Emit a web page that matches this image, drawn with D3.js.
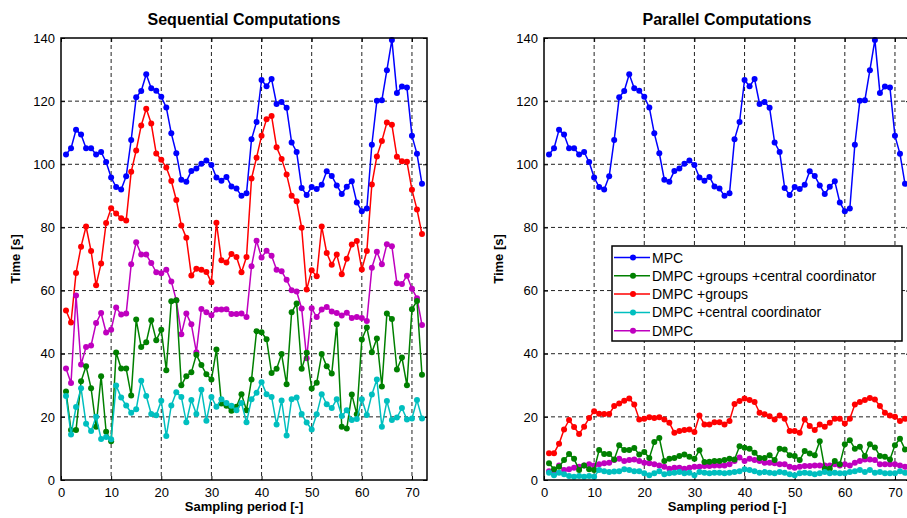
<!DOCTYPE html>
<html>
<head>
<meta charset="utf-8">
<script src="https://cdn.jsdelivr.net/npm/d3@7"></script>
<style>
  html, body { margin: 0; padding: 0; background: #fff; }
  svg { display: block; font-family: Arial, "Liberation Sans", Helvetica, sans-serif; }
</style>
</head>
<body>
<svg id="chart" width="907" height="518"></svg>
<script>
// ---------------- data ----------------
const periods = d3.range(1, 73);
const xTicks = [0, 10, 20, 30, 40, 50, 60, 70];
const yTicks = [0, 20, 40, 60, 80, 100, 120, 140];
const panelTitles = ["Sequential Computations", "Parallel Computations"];
const seriesNames = ["MPC", "DMPC +groups +central coordinator", "DMPC +groups", "DMPC +central coordinator", "DMPC"];
const seriesColors = ["#0000ff", "#008000", "#ff0000", "#00bfbf", "#bf00bf"];

const mpc = [103.1,105.1,110.9,109.4,105.1,105.1,103.1,103.9,100.7,95.8,92.8,92.0,96.2,107.7,121.2,123.2,128.5,124.1,123.3,121.4,118.0,109.8,103.5,95.1,94.5,97.9,98.7,100.2,101.2,99.8,95.8,94.8,96.0,93.0,92.3,90.0,90.8,107.9,113.4,126.7,124.7,127.0,119.1,119.7,117.9,106.9,103.9,92.5,90.3,92.8,92.2,93.5,97.8,96.3,93.3,90.6,92.9,94.6,87.9,85.1,86.0,106.2,120.1,120.3,129.8,139.4,122.6,124.6,124.3,109.0,103.3,93.8];

// Sequential computations
const seqGroupsCoord = [28.0,15.8,15.8,31.3,36.0,29.1,16.9,32.9,15.3,12.3,40.4,35.3,35.3,26.8,50.8,42.1,43.6,50.6,44.3,47.6,34.8,56.6,56.9,30.0,32.9,34.1,39.7,36.4,33.5,31.8,41.3,24.2,23.5,21.9,23.2,27.2,22.1,31.8,47.1,46.8,44.6,33.9,35.2,39.9,30.3,53.1,55.9,35.2,40.3,29.0,30.8,39.9,36.0,33.7,49.3,16.9,16.3,27.1,20.8,44.5,48.3,40.5,44.8,29.6,52.7,51.0,35.0,38.8,30.0,54.1,56.7,33.3];
const seqGroups = [53.7,49.9,65.6,73.9,80.3,72.5,61.7,68.6,81.4,86.1,84.4,82.9,82.2,97.6,104.4,112.3,117.6,112.9,103.4,101.4,99.0,94.7,88.7,80.6,76.7,64.8,66.9,66.6,65.9,62.6,81.5,69.6,68.9,71.6,70.6,65.8,70.6,95.5,102.1,109.0,114.3,115.3,105.4,101.7,96.8,90.0,88.3,79.9,60.3,66.4,64.5,80.3,71.9,68.2,71.4,65.2,70.1,74.6,75.7,66.7,72.5,93.6,102.5,107.4,113.2,112.5,102.4,101.0,100.8,91.9,85.7,77.9];
const seqCoord = [26.6,14.4,23.1,29.1,17.8,15.5,20.0,13.0,13.6,12.9,29.9,26.1,23.6,21.3,22.4,31.4,26.6,20.9,20.5,25.1,13.9,23.6,27.8,26.3,18.3,25.3,20.9,28.6,18.8,26.3,23.2,25.6,24.4,23.5,22.1,24.4,18.3,25.6,27.6,31.0,27.2,26.3,17.6,25.2,14.1,25.6,26.1,20.9,18.2,16.0,20.8,27.2,24.0,22.8,25.6,20.3,22.1,19.0,19.3,25.6,20.6,27.1,31.8,16.9,25.0,19.0,19.8,22.8,19.2,19.5,25.3,19.5];
const seqDmpc = [35.3,30.7,58.4,36.6,42.1,42.6,49.7,52.9,46.7,47.6,54.6,52.4,52.7,68.3,75.3,71.4,71.4,68.7,65.8,65.5,66.6,62.9,56.9,46.2,52.7,49.3,40.5,54.2,53.1,52.2,54.0,54.0,54.1,52.6,52.6,52.7,51.6,67.7,75.8,70.5,72.6,71.0,66.6,66.1,63.4,60.1,59.7,54.3,38.6,54.4,51.6,54.0,54.8,53.4,52.9,52.1,53.0,51.3,51.6,51.3,50.4,67.2,72.3,68.3,74.7,74.0,62.3,62.1,64.7,60.6,57.6,49.1];

// Parallel computations
const parGroupsCoord = [5.3,3.4,4.2,6.3,8.2,6.7,3.2,4.6,3.4,3.2,9.5,8.2,8.2,6.5,11.0,9.5,9.5,10.1,8.1,8.9,7.0,12.0,13.3,6.0,6.7,7.0,7.6,8.1,7.4,6.7,9.4,5.7,5.8,6.0,6.0,6.3,6.7,6.5,10.7,10.2,9.9,8.6,7.0,7.0,7.8,6.3,9.9,9.7,7.8,7.6,6.3,9.2,8.4,7.8,12.3,3.6,3.6,6.0,5.0,11.3,12.6,9.9,10.5,7.6,11.3,10.3,7.6,7.4,6.5,11.0,13.1,9.7];
const parGroups = [8.5,8.5,11.5,16.0,19.0,16.8,14.6,16.9,19.6,21.8,21.0,20.9,20.9,23.4,24.2,25.1,25.8,23.9,19.2,19.4,19.9,19.6,19.9,19.2,18.1,15.0,15.5,15.8,16.0,15.2,20.4,17.6,17.6,18.3,18.3,17.6,18.7,24.1,25.0,25.8,25.3,24.7,21.3,20.8,20.2,19.2,20.4,19.4,15.5,15.5,15.0,19.2,17.1,15.8,17.6,16.9,18.1,19.4,19.4,17.9,19.4,23.9,24.7,25.3,26.0,25.5,23.4,21.3,20.4,20.0,18.7,19.4];
const parCoord = [2.3,1.5,2.3,1.8,1.3,1.05,1.3,1.05,1.3,1.05,3.2,2.8,2.5,2.7,2.8,3.4,3.2,2.8,2.8,2.1,1.5,2.1,2.8,1.8,2.1,2.3,2.5,2.1,2.3,1.5,2.5,2.3,2.1,2.3,2.3,2.1,2.3,2.5,2.8,3.4,3.2,2.8,2.3,2.5,2.3,2.1,2.5,2.3,1.8,1.5,2.1,2.3,2.1,1.8,2.1,2.5,2.1,2.3,2.1,2.1,2.5,2.8,3.2,2.5,3.2,2.3,2.5,2.1,2.1,2.1,2.8,2.3];
const parDmpc = [2.8,2.5,4.6,3.2,3.4,3.9,4.2,4.6,5.0,4.6,5.0,5.3,5.5,6.3,6.7,6.0,6.3,6.5,6.0,5.5,5.3,5.0,4.6,4.2,3.6,3.9,3.9,3.6,3.9,4.2,4.2,4.4,4.4,4.6,4.6,4.6,5.0,6.0,7.1,6.0,6.7,6.3,6.0,5.5,5.5,5.3,5.0,5.0,4.2,3.9,4.2,4.4,4.4,4.6,4.6,4.6,4.6,5.0,4.6,5.0,4.6,5.5,6.0,6.5,6.5,6.3,5.0,5.0,5.0,5.0,4.6,4.2];

const seqSeries = [mpc, seqGroupsCoord, seqGroups, seqCoord, seqDmpc];
const parSeries = [mpc, parGroupsCoord, parGroups, parCoord, parDmpc];

// ---------------- layout ----------------
const svg = d3.select("#chart");
const font = "Arial, 'Liberation Sans', Helvetica, sans-serif";
const panels = [
  { left: 61, right: 427, top: 38, bottom: 480, series: seqSeries, title: panelTitles[0], legend: false },
  { left: 544, right: 910, top: 38, bottom: 480, series: parSeries, title: panelTitles[1], legend: true }
];
const drawOrder = [2, 4, 1, 3, 0];

panels.forEach(p => {
  const x = d3.scaleLinear().domain([0, 73]).range([p.left, p.right]);
  const y = d3.scaleLinear().domain([0, 140]).range([p.bottom, p.top]);
  const g = svg.append("g");

  // grid
  g.append("g").selectAll("line").data(xTicks.filter(t => t > 0)).join("line")
    .attr("x1", d => x(d)).attr("x2", d => x(d)).attr("y1", p.top).attr("y2", p.bottom)
    .attr("stroke", "#222").attr("stroke-width", 1).attr("stroke-dasharray", "4,3");
  g.append("g").selectAll("line").data(yTicks.filter(t => t > 0 && t < 140)).join("line")
    .attr("y1", d => y(d)).attr("y2", d => y(d)).attr("x1", p.left).attr("x2", p.right)
    .attr("stroke", "#222").attr("stroke-width", 1).attr("stroke-dasharray", "4,3");

  // axes with inward ticks
  const xb = d3.axisBottom(x).tickValues(xTicks).tickSizeInner(-4).tickSizeOuter(0).tickPadding(8);
  const yl = d3.axisLeft(y).tickValues(yTicks).tickSizeInner(-4).tickSizeOuter(0).tickPadding(6);
  const xt = d3.axisTop(x).tickValues(xTicks).tickSizeInner(-4).tickSizeOuter(0).tickFormat("");
  const yr = d3.axisRight(y).tickValues(yTicks).tickSizeInner(-4).tickSizeOuter(0).tickFormat("");
  [[xb, `translate(0,${p.bottom})`], [yl, `translate(${p.left},0)`], [xt, `translate(0,${p.top})`], [yr, `translate(${p.right},0)`]]
    .forEach(([ax, tr]) => {
      const a = g.append("g").attr("transform", tr).call(ax);
      a.select(".domain").remove();
      a.selectAll("line").attr("stroke", "#000");
      a.selectAll("text").attr("font-family", font).attr("font-size", 13).attr("fill", "#000");
    });

  // series
  const line = d3.line().x((d, i) => x(periods[i])).y(d => y(d));
  const clipId = "clip" + p.left;
  svg.append("clipPath").attr("id", clipId).append("rect")
    .attr("x", p.left - 4).attr("y", p.top - 4).attr("width", p.right - p.left + 8).attr("height", p.bottom - p.top + 8);
  const sg = g.append("g").attr("clip-path", `url(#${clipId})`);
  drawOrder.forEach(si => {
    const vals = p.series[si];
    sg.append("path").datum(vals).attr("d", line).attr("fill", "none")
      .attr("stroke", seriesColors[si]).attr("stroke-width", 1.5).attr("stroke-linejoin", "round");
    sg.append("g").selectAll("circle").data(vals).join("circle")
      .attr("cx", (d, i) => x(periods[i])).attr("cy", d => y(d)).attr("r", 3)
      .attr("fill", seriesColors[si]);
  });

  // frame
  g.append("rect").attr("x", p.left).attr("y", p.top).attr("width", p.right - p.left).attr("height", p.bottom - p.top)
    .attr("fill", "none").attr("stroke", "#000").attr("stroke-width", 1.5);

  // title and labels
  const cx = (p.left + p.right) / 2;
  g.append("text").attr("x", cx).attr("y", 25).attr("text-anchor", "middle")
    .attr("font-family", font).attr("font-size", 16).attr("font-weight", "bold").text(p.title);
  g.append("text").attr("x", cx).attr("y", 511).attr("text-anchor", "middle")
    .attr("font-family", font).attr("font-size", 13).attr("font-weight", "bold").text("Sampling period [-]");
  g.append("text").attr("transform", `translate(${p.left - 41},${(p.top + p.bottom) / 2}) rotate(-90)`)
    .attr("text-anchor", "middle").attr("font-family", font).attr("font-size", 13).attr("font-weight", "bold").text("Time [s]");

  if (p.legend) {
    const lg = g.append("g");
    const lx = 612, ly = 246, lw = 290, lh = 95;
    lg.append("rect").attr("x", lx).attr("y", ly).attr("width", lw).attr("height", lh)
      .attr("fill", "#fff").attr("stroke", "#000").attr("stroke-width", 1.5);
    seriesNames.forEach((name, k) => {
      const yy = ly + 11.5 + k * 18.3;
      lg.append("line").attr("x1", lx + 2).attr("x2", lx + 38).attr("y1", yy).attr("y2", yy)
        .attr("stroke", seriesColors[k]).attr("stroke-width", 1.5);
      lg.append("circle").attr("cx", lx + 21).attr("cy", yy).attr("r", 3).attr("fill", seriesColors[k]);
      lg.append("text").attr("x", lx + 40).attr("y", yy + 5).attr("font-family", font).attr("font-size", 14).text(name);
    });
  }
});
</script>
</body>
</html>
